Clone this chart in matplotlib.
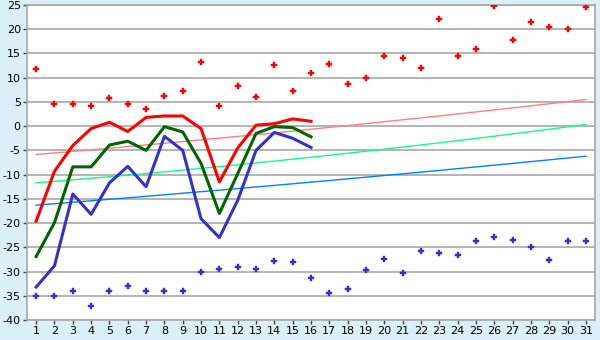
import matplotlib
matplotlib.use("Agg")
import matplotlib.pyplot as plt

plt.rcParams['axes.unicode_minus'] = False

days = list(range(1, 32))

# record highs / lows (dots)
rec_max = [11.7, 4.5, 4.5, 4.1, 5.9, 4.5, 3.6, 6.3, 7.2, 13.3,
           4.1, 8.2, 6.1, 12.7, 7.2, 10.9, 12.9, 8.8, 10.0, 14.4,
           14.0, 12.1, 22.2, 14.4, 16.0, 24.8, 17.7, 21.4, 20.4, 20.0, 24.5]
rec_min = [-35.0, -35.0, -34.0, -37.2, -34.0, -33.0, -34.0, -34.0, -34.0, -30.0,
           -29.4, -29.0, -29.4, -27.9, -28.1, -31.4, -34.5, -33.7, -29.6, -27.5,
           -30.2, -25.7, -26.1, -26.5, -23.8, -22.8, -23.4, -25.0, -27.7, -23.8, -23.8]

# this month so far (days 1-16)
obs_days = days[:16]
t_max = [-19.6, -9.3, -4.0, -0.5, 0.8, -1.1, 1.8, 2.1, 2.1, -0.5,
         -11.5, -4.5, 0.2, 0.5, 1.5, 1.0]
t_mean = [-26.9, -19.9, -8.4, -8.4, -3.9, -3.1, -5.0, -0.1, -1.2, -7.7,
          -18.0, -9.8, -1.5, -0.1, -0.3, -2.2]
t_min = [-33.2, -28.8, -14.0, -18.2, -11.7, -8.3, -12.5, -2.1, -5.0, -19.1,
         -23.0, -15.3, -5.0, -1.3, -2.5, -4.4]

# normals
norm_max = [-5.85, -5.53, -5.21, -4.88, -4.55, -4.21, -3.87, -3.53, -3.18, -2.83,
            -2.47, -2.11, -1.75, -1.38, -1.01, -0.63, -0.25, 0.13, 0.52, 0.91,
            1.31, 1.71, 2.11, 2.52, 2.94, 3.35, 3.77, 4.20, 4.63, 5.06, 5.50]
norm_mean = [-11.70, -11.39, -11.08, -10.76, -10.43, -10.10, -9.76, -9.42, -9.06, -8.70,
             -8.34, -7.97, -7.59, -7.20, -6.81, -6.41, -6.00, -5.59, -5.18, -4.75,
             -4.32, -3.88, -3.44, -2.99, -2.53, -2.07, -1.60, -1.12, -0.64, -0.15, 0.35]
norm_min = [-16.30, -16.00, -15.70, -15.40, -15.09, -14.79, -14.47, -14.16, -13.84, -13.52,
            -13.20, -12.88, -12.55, -12.22, -11.89, -11.55, -11.22, -10.87, -10.53, -10.18,
            -9.84, -9.48, -9.13, -8.77, -8.41, -8.05, -7.69, -7.32, -6.95, -6.57, -6.20]

bg = "#daeff6"
grid_c = "#a8a8a8"

fig = plt.figure(figsize=(6, 3.4), dpi=100, facecolor=bg)
ax = fig.add_axes([0.045, 0.0588, 0.9467, 0.9265])
ax.set_facecolor("white")

for v in range(-40, 26, 5):
    ax.axhline(v, color=grid_c, lw=1.2, zorder=0)

ax.plot(days, norm_max, color="#ff8080", lw=1.0, zorder=2)
ax.plot(days, norm_mean, color="#10ff80", lw=1.0, zorder=2)
ax.plot(days, norm_min, color="#0080ff", lw=1.0, zorder=2)

ax.plot(obs_days, t_max, color="#ff0000", lw=2.2, zorder=3)
ax.plot(obs_days, t_mean, color="#006400", lw=2.2, zorder=3)
ax.plot(obs_days, t_min, color="#3333cc", lw=2.2, zorder=3)

ax.plot(days, rec_max, ls="none", marker="P", ms=5, color="#ff0000", mew=0.3, zorder=4)
ax.plot(days, rec_min, ls="none", marker="P", ms=5, color="#3333cc", mew=0.3, zorder=4)

ax.set_xlim(0.5, 31.5)
ax.set_ylim(-40, 25)
ax.set_xticks(days)
ax.set_yticks(range(-40, 26, 5))
ax.tick_params(axis="both", colors="#444444", labelcolor="black", labelsize=8,
               length=3, width=1, pad=1.5)
for s in ax.spines.values():
    s.set_color(grid_c)
    s.set_linewidth(1.2)

fig.savefig("out.png", dpi=100, facecolor=bg)
